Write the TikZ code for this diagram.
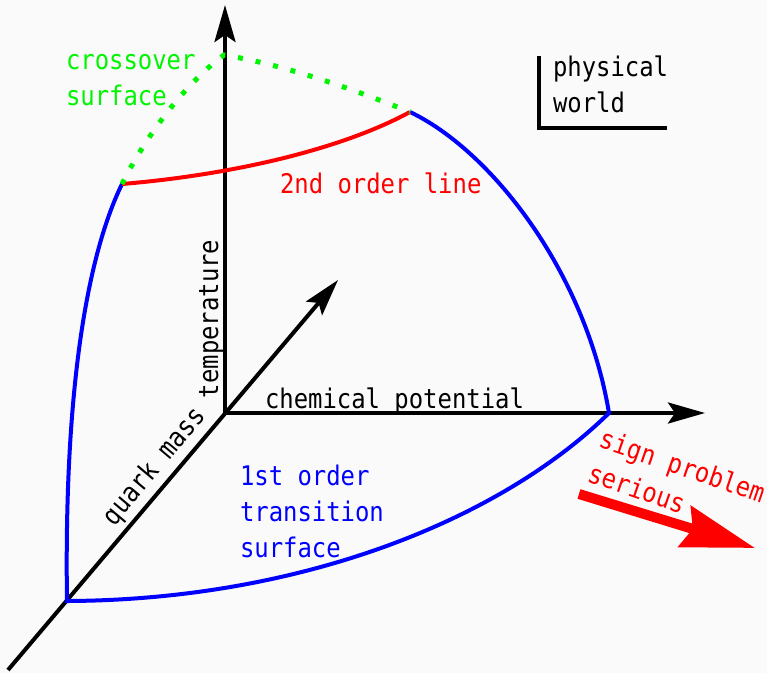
\documentclass[tikz,border=0pt]{standalone}
\usepackage{fontspec}
\setmainfont{DejaVu Sans Mono}[FakeStretch=0.885]
\usetikzlibrary{arrows.meta}
\definecolor{bgc}{RGB}{250,250,250}
\definecolor{grn}{RGB}{0,245,0}
\definecolor{rdc}{RGB}{255,0,0}
\definecolor{blc}{RGB}{0,0,255}
\begin{document}
\begin{tikzpicture}[x=1pt,y=-1pt,
  lbl/.style={font=\fontsize{27}{36}\selectfont, inner sep=0pt, outer sep=0pt, anchor=base west, align=left},
  axisline/.style={line width=4pt, black, -{Stealth[length=37pt,width=21pt,inset=7pt]}},
  blueline/.style={line width=4pt, blc},
  redline/.style={line width=4pt, rdc},
  greenline/.style={line width=5pt, grn, dash pattern=on 5pt off 13pt},
  bracketline/.style={line width=4pt, black},
  bigarrow/.style={line width=10pt, rdc, -{Stealth[length=73pt,width=42pt,inset=8pt]}}]
\fill[bgc] (0,0) rectangle (767,673);
\useasboundingbox (0,0) rectangle (767,673);
% coordinates
\coordinate (O) at (225,413);
\coordinate (T) at (225,5);
\coordinate (M) at (705,413);
\coordinate (Qs) at (8,670);
\coordinate (Qe) at (338,280);
\coordinate (A) at (67,601);
\coordinate (B) at (609,413);
\coordinate (C) at (122,184);
\coordinate (D) at (410,112);
\coordinate (P) at (224,55);
\coordinate (W1) at (539,56);
\coordinate (W2) at (539,128);
\coordinate (W3) at (667,128);
\coordinate (S1) at (579,494);
\coordinate (S2) at (755,548);
% axes
\draw[axisline] (O) -- (T);
\draw[axisline] (O) -- (M);
\draw[axisline] (Qs) -- (Qe);
% surfaces
\draw[blueline] (C) .. controls (85,260) and (64,400) .. (A)
  .. controls (300,600) and (500,520) .. (B)
  .. controls (585,270) and (490,150) .. (D);
\draw[redline] (C) .. controls (230,175) and (340,150) .. (D);
\draw[greenline] (C) .. controls (150,128) and (190,80) .. (P)
  .. controls (285,65) and (350,88) .. (D);
% physical world bracket
\draw[bracketline] (W1) -- (W2) -- (W3);
\draw[bigarrow] (S1) -- (S2);
% labels (base anchor = baseline of the last line)
\node[lbl, text=grn] (cross) at (66,105) {crossover\\surface};
\node[lbl] (phys) at (553,112) {physical\\world};
\node[lbl, text=rdc] (second) at (280,193) {2nd order line};
\node[lbl, rotate=90] (temp) at (218,398) {temperature};
\node[lbl] (chem) at (265,408) {chemical potential};
\node[lbl, rotate=50] (quark) at (114,527) {quark mass};
\node[lbl, text=blc] (first) at (240,557) {1st order\\transition\\surface};
\node[lbl, text=rdc, rotate=-19] (sign) at (586,481) {sign problem\\serious};
\end{tikzpicture}
\end{document}
